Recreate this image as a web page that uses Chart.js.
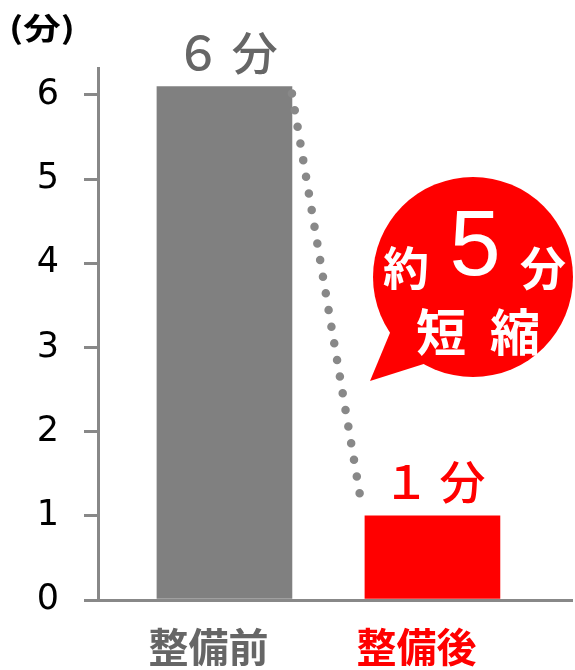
<!DOCTYPE html>
<html><head><meta charset="utf-8">
<script src="https://cdn.jsdelivr.net/npm/chart.js@4/dist/chart.umd.min.js"></script>
<style>html,body{margin:0;padding:0;background:#fff}</style>
</head><body>
<canvas id="c" width="575" height="670"></canvas>
<script>
const categories = ['整備前', '整備後'];
const minutes = [6.1, 1.0];
const valueLabels = ['６ 分', '１ 分'];
const yTicks = [0, 1, 2, 3, 4, 5, 6];
const barColors = ['#808080', '#ff0000'];
const categoryColors = ['#666666', '#ff0000'];
const unitLabel = '(分)';
const calloutTop = ['約', '5', '分'];
const calloutBottom = ['短', '縮'];

const CJK = '"Noto Sans CJK JP", "Noto Sans", sans-serif';

const annot = {
  id: 'annot',
  afterDatasetsDraw(chart) {
    const ctx = chart.ctx;
    const bars = chart.getDatasetMeta(0).data;
    const b0 = bars[0], b1 = bars[1];
    ctx.save();
    ctx.strokeStyle = '#888888';
    ctx.lineWidth = 8.5;
    ctx.lineCap = 'round';
    const x0 = b0.x + b0.width / 2, y0 = b0.y + 7;
    const x1 = b1.x - b1.width / 2 - 2.5, y1 = b1.y - 6;
    const len = Math.hypot(x1 - x0, y1 - y0);
    ctx.setLineDash([0, len / 25]);
    ctx.beginPath(); ctx.moveTo(x0, y0); ctx.lineTo(x1, y1); ctx.stroke();
    ctx.restore();
  },
  afterDraw(chart) {
    const ctx = chart.ctx;
    const bars = chart.getDatasetMeta(0).data;
    ctx.save();
    bars.forEach((b, i) => {
      ctx.font = `500 46px ${CJK}`;
      ctx.fillStyle = categoryColors[i];
      ctx.textAlign = 'center';
      ctx.textBaseline = 'middle';
      ctx.fillText(valueLabels[i], b.x + 2, b.y - 34);
    });
    ctx.save();
    ctx.translate(42, 28);
    ctx.scale(1.25, 1);
    ctx.font = `bold 30px ${CJK}`;
    ctx.fillStyle = '#000';
    ctx.textAlign = 'center';
    ctx.textBaseline = 'middle';
    ctx.fillText(unitLabel, 0, 0);
    ctx.restore();
    ctx.fillStyle = '#ff0000';
    ctx.beginPath();
    ctx.arc(473, 277, 100, 0, Math.PI * 2);
    ctx.fill();
    ctx.beginPath();
    ctx.moveTo(392, 328); ctx.lineTo(370, 381); ctx.lineTo(430, 362); ctx.closePath();
    ctx.fill();
    ctx.fillStyle = '#fff';
    ctx.textAlign = 'center';
    ctx.textBaseline = 'middle';
    ctx.font = `bold 46px ${CJK}`;
    ctx.fillText(calloutTop[0], 406, 268);
    ctx.fillText(calloutTop[2], 543, 268);
    ctx.font = `92px "Liberation Sans", Arial, sans-serif`;
    ctx.fillText(calloutTop[1], 475, 250);
    ctx.font = `bold 50px ${CJK}`;
    ctx.fillText(calloutBottom[0], 441, 332);
    ctx.fillText(calloutBottom[1], 515, 332);
    ctx.restore();
  }
};

new Chart(document.getElementById('c'), {
  type: 'bar',
  data: {
    datasets: [{
      data: categories.map((c, i) => ({ x: i + 1, y: minutes[i] })),
      backgroundColor: barColors,
      barThickness: 135
    }]
  },
  options: {
    responsive: false,
    animation: false,
    devicePixelRatio: 1,
    layout: { padding: { top: 68, right: 3, left: 0, bottom: 0 } },
    plugins: { legend: { display: false }, tooltip: { enabled: false } },
    scales: {
      x: {
        type: 'linear', min: 0.392, max: 2.671, offset: false,
        afterBuildTicks: s => { s.ticks = categories.map((c, i) => ({ value: i + 1 })); },
        afterFit: s => { s.height = 70; },
        grid: { display: false, offset: false },
        border: { display: true, color: '#888888', width: 3, z: 1 },
        ticks: {
          callback: v => categories[Math.round(v) - 1],
          color: c => categoryColors[c.index],
          font: { family: CJK, size: 40, weight: 'bold' },
          padding: 15, labelOffset: -16, maxRotation: 0, autoSkip: false
        }
      },
      y: {
        min: 0, max: 6.32,
        afterBuildTicks: s => { s.ticks = yTicks.map(v => ({ value: v })); },
        afterFit: s => { s.width = 98; },
        grid: { drawOnChartArea: false, drawTicks: true, tickLength: 14, color: '#888888', lineWidth: 3 },
        border: { display: true, color: '#888888', width: 3, z: 1 },
        ticks: { color: '#000', font: { family: '"DejaVu Sans"', size: 35 }, padding: 25 }
      }
    }
  },
  plugins: [annot]
});
</script>
</body></html>
